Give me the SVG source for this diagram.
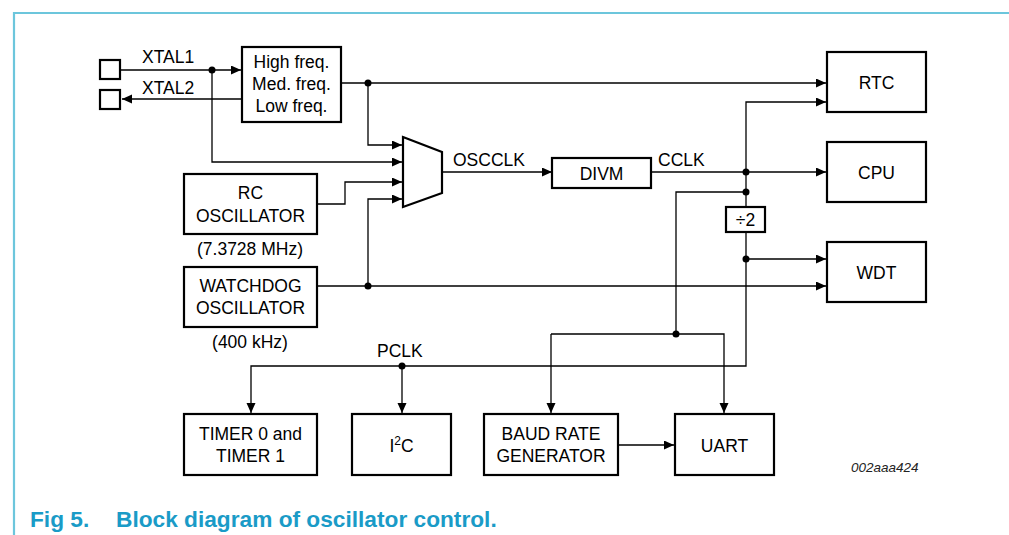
<svg xmlns="http://www.w3.org/2000/svg" width="1009" height="535" viewBox="0 0 1009 535">
<style>
.box{fill:#fff;stroke:#000;stroke-width:2.2}
.ln{fill:none;stroke:#000;stroke-width:1.3}
.t{font-family:"Liberation Sans",Arial,sans-serif;font-size:17.5px;fill:#000}
.c{text-anchor:middle}
.dot{fill:#000}
.cap{font-family:"Liberation Sans",Arial,sans-serif;font-size:22.7px;font-weight:bold;fill:#1a9bc7}
</style>
<defs>
<marker id="ah" markerUnits="userSpaceOnUse" markerWidth="11" markerHeight="10" refX="10" refY="4.5" orient="auto">
<path d="M0,0 L10,4.5 L0,9 z" fill="#000"/>
</marker>
</defs>
<rect width="1009" height="535" fill="#fff"/>
<path d="M14,535 V13 H1009" fill="none" stroke="#6cc6dc" stroke-width="2.2"/>

<g id="connectors">
<path class="ln" d="M120,70 H241" marker-end="url(#ah)"/>
<path class="ln" d="M242,99 H122" marker-end="url(#ah)"/>
<path class="ln" d="M341,83 H826" marker-end="url(#ah)"/>
<path class="ln" d="M368,83 V145 H402" marker-end="url(#ah)"/>
<path class="ln" d="M212,70 V162 H402" marker-end="url(#ah)"/>
<path class="ln" d="M317,204 H345 V182 H402" marker-end="url(#ah)"/>
<path class="ln" d="M317,286 H826" marker-end="url(#ah)"/>
<path class="ln" d="M368,286 V199 H402" marker-end="url(#ah)"/>
<path class="ln" d="M442,172 H552" marker-end="url(#ah)"/>
<path class="ln" d="M651,172 H826" marker-end="url(#ah)"/>
<path class="ln" d="M746,172 V102 H826" marker-end="url(#ah)"/>
<path class="ln" d="M746,172 V207"/>
<path class="ln" d="M746,232 V366 H251 V413" marker-end="url(#ah)"/>
<path class="ln" d="M746,259 H826" marker-end="url(#ah)"/>
<path class="ln" d="M402,366 V413" marker-end="url(#ah)"/>
<path class="ln" d="M746,192 H676 V334"/>
<path class="ln" d="M551,334 H724 V413" marker-end="url(#ah)"/>
<path class="ln" d="M551,334 V413" marker-end="url(#ah)"/>
<path class="ln" d="M618,445 H674" marker-end="url(#ah)"/>
<circle class="dot" cx="212" cy="70" r="3.5"/>
<circle class="dot" cx="368" cy="83" r="3.5"/>
<circle class="dot" cx="368" cy="286" r="3.5"/>
<circle class="dot" cx="746" cy="172" r="3.5"/>
<circle class="dot" cx="746" cy="192" r="3.5"/>
<circle class="dot" cx="746" cy="259" r="3.5"/>
<circle class="dot" cx="402" cy="366" r="3.5"/>
<circle class="dot" cx="676" cy="334" r="3.5"/>
<text class="t" x="142" y="63">XTAL1</text>
<text class="t" x="142" y="94">XTAL2</text>
<text class="t" x="453" y="166">OSCCLK</text>
<text class="t" x="658" y="166">CCLK</text>
<text class="t" x="377" y="357">PCLK</text>
</g>

<g id="xtal1-pad"><rect class="box" x="100" y="60" width="20" height="19"/></g>
<g id="xtal2-pad"><rect class="box" x="100" y="90" width="20" height="19"/></g>

<g id="crystal-osc">
<rect class="box" x="242" y="47" width="99" height="75"/>
<text class="t c" x="291.5" y="68">High freq.</text>
<text class="t c" x="291.5" y="90">Med. freq.</text>
<text class="t c" x="291.5" y="112">Low freq.</text>
</g>

<g id="rc-osc">
<rect class="box" x="184" y="174" width="133" height="60"/>
<text class="t c" x="250.5" y="199">RC</text>
<text class="t c" x="250.5" y="222">OSCILLATOR</text>
<text class="t c" x="250" y="255">(7.3728 MHz)</text>
</g>

<g id="wdt-osc">
<rect class="box" x="184" y="267" width="133" height="60"/>
<text class="t c" x="250.5" y="292">WATCHDOG</text>
<text class="t c" x="250.5" y="314">OSCILLATOR</text>
<text class="t c" x="250" y="348">(400 kHz)</text>
</g>

<g id="mux"><polygon class="box" points="403,137 442,152 442,193 403,207"/></g>

<g id="divm">
<rect class="box" x="552" y="158" width="99" height="30"/>
<text class="t c" x="601.5" y="180">DIVM</text>
</g>

<g id="div2">
<rect class="box" x="726" y="207" width="39" height="25"/>
<text class="t c" x="745.5" y="226">÷2</text>
</g>

<g id="rtc">
<rect class="box" x="827" y="52" width="99" height="60"/>
<text class="t c" x="876.5" y="89">RTC</text>
</g>
<g id="cpu">
<rect class="box" x="827" y="142" width="99" height="60"/>
<text class="t c" x="876.5" y="179">CPU</text>
</g>
<g id="wdt">
<rect class="box" x="827" y="242" width="99" height="60"/>
<text class="t c" x="876.5" y="279">WDT</text>
</g>

<g id="timer">
<rect class="box" x="184" y="414" width="133" height="61"/>
<text class="t c" x="250.5" y="440">TIMER 0 and</text>
<text class="t c" x="250.5" y="462">TIMER 1</text>
</g>
<g id="i2c">
<rect class="box" x="352" y="414" width="99" height="61"/>
<text class="t c" x="401.5" y="452">I<tspan dy="-7" style="font-size:12px">2</tspan><tspan dy="7">C</tspan></text>
</g>
<g id="baud">
<rect class="box" x="484" y="414" width="134" height="61"/>
<text class="t c" x="551" y="440">BAUD RATE</text>
<text class="t c" x="551" y="462">GENERATOR</text>
</g>
<g id="uart">
<rect class="box" x="675" y="414" width="99" height="61"/>
<text class="t c" x="724.5" y="452">UART</text>
</g>

<text x="851" y="472" style="font-family:'Liberation Sans',Arial,sans-serif;font-size:13.5px;font-style:italic;fill:#222">002aaa424</text>
<text class="cap" x="30" y="527">Fig 5.</text>
<text class="cap" x="116" y="527">Block diagram of oscillator control.</text>
</svg>
